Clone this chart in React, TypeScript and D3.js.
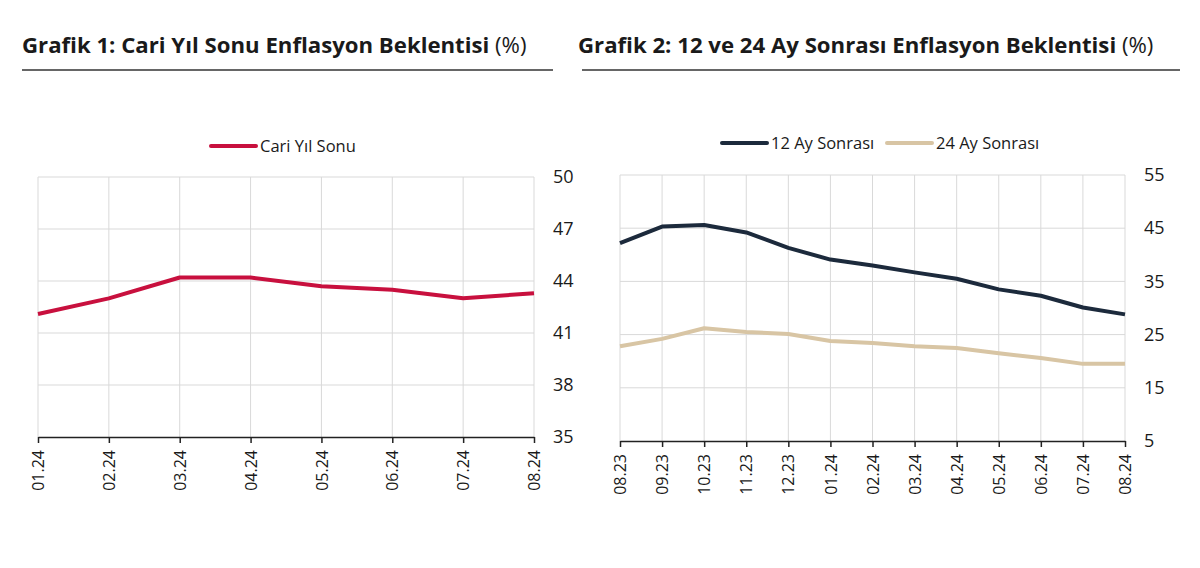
import React, { useEffect, useRef } from 'react';
import * as d3 from 'd3';

const months1 = ['01.24', '02.24', '03.24', '04.24', '05.24', '06.24', '07.24', '08.24'];
const cariYilSonu = [42.1, 43.0, 44.2, 44.2, 43.7, 43.5, 43.0, 43.3];
const ticks1 = [35, 38, 41, 44, 47, 50];

const months2 = ['08.23', '09.23', '10.23', '11.23', '12.23', '01.24', '02.24', '03.24', '04.24', '05.24', '06.24', '07.24', '08.24'];
const ay12 = [42.2, 45.3, 45.6, 44.2, 41.3, 39.1, 38.0, 36.7, 35.5, 33.5, 32.3, 30.1, 28.8];
const ay24 = [22.8, 24.2, 26.2, 25.5, 25.1, 23.8, 23.4, 22.8, 22.5, 21.5, 20.6, 19.5, 19.5];
const ticks2 = [5, 15, 25, 35, 45, 55];

const FONT = '"Open Sans", "DejaVu Sans", sans-serif';

interface Series {
  name: string;
  values: number[];
  color: string;
}

interface PanelOpts {
  left: number;
  right: number;
  top: number;
  bottom: number;
  title: string;
  titleX: number;
  ruleX1: number;
  ruleX2: number;
  categories: string[];
  series: Series[];
  yTicks: number[];
  legendX: number[];
  legendY: number;
}

function drawPanel(svg: d3.Selection<SVGSVGElement, unknown, null, undefined>, o: PanelOpts) {
  const g = svg.append('g');

  // title + rule
  const t = g.append('text')
    .attr('x', o.titleX)
    .attr('y', 53)
    .attr('font-family', FONT)
    .attr('font-size', 22.2)
    .attr('fill', '#1a1a1a');
  t.append('tspan').attr('font-weight', 700).text(o.title + ' ');
  t.append('tspan').attr('font-weight', 400).text('(%)');

  g.append('line')
    .attr('x1', o.ruleX1).attr('x2', o.ruleX2)
    .attr('y1', 70).attr('y2', 70)
    .attr('stroke', '#333').attr('stroke-width', 1.5);

  const x = d3.scalePoint<string>().domain(o.categories).range([o.left, o.right]);
  const y = d3.scaleLinear()
    .domain([o.yTicks[0], o.yTicks[o.yTicks.length - 1]])
    .range([o.bottom, o.top]);

  // gridlines
  g.append('g').selectAll('line.h')
    .data(o.yTicks.slice(1))
    .enter().append('line')
    .attr('x1', o.left).attr('x2', o.right)
    .attr('y1', d => y(d)).attr('y2', d => y(d))
    .attr('stroke', '#d9d9d9').attr('stroke-width', 1);

  g.append('g').selectAll('line.v')
    .data(o.categories)
    .enter().append('line')
    .attr('x1', d => x(d) || 0).attr('x2', d => x(d) || 0)
    .attr('y1', o.top).attr('y2', o.bottom)
    .attr('stroke', '#d9d9d9').attr('stroke-width', 1);

  // x axis
  const xAxis = g.append('g')
    .attr('transform', `translate(0,${o.bottom})`)
    .call(d3.axisBottom(x).tickSize(6).tickSizeOuter(0).tickPadding(8));
  xAxis.select('.domain').attr('stroke', '#222').attr('stroke-width', 1.5);
  xAxis.selectAll('.tick line').attr('stroke', '#222').attr('stroke-width', 1.5);
  xAxis.selectAll('.tick text')
    .attr('font-family', FONT)
    .attr('font-size', 16)
    .attr('fill', '#1a1a1a')
    .attr('transform', 'rotate(-90)')
    .attr('text-anchor', 'end')
    .attr('dy', '0.35em')
    .attr('x', -13)
    .attr('y', 0);

  // y axis on the right
  const yAxis = g.append('g')
    .attr('transform', `translate(${o.right},0)`)
    .call(d3.axisRight(y).tickValues(o.yTicks).tickSize(0).tickPadding(19));
  yAxis.select('.domain').remove();
  yAxis.selectAll('.tick text')
    .attr('font-family', FONT)
    .attr('font-size', 18)
    .attr('fill', '#1a1a1a');

  // lines
  const line = d3.line<number>()
    .x((_d, i) => x(o.categories[i]) || 0)
    .y(d => y(d));

  o.series.forEach(s => {
    g.append('path')
      .datum(s.values)
      .attr('fill', 'none')
      .attr('stroke', s.color)
      .attr('stroke-width', 4)
      .attr('stroke-linejoin', 'round')
      .attr('d', line);
  });

  // legend
  o.series.forEach((s, i) => {
    const lx = o.legendX[i];
    g.append('line')
      .attr('x1', lx).attr('x2', lx + 45)
      .attr('y1', o.legendY).attr('y2', o.legendY)
      .attr('stroke', s.color).attr('stroke-width', 4)
      .attr('stroke-linecap', 'round');
    g.append('text')
      .attr('x', lx + 49)
      .attr('y', o.legendY)
      .attr('dy', '0.35em')
      .attr('font-family', FONT)
      .attr('font-size', 16.5)
      .attr('fill', '#1a1a1a')
      .text(s.name);
  });
}

export default function App() {
  const svgRef = useRef<SVGSVGElement>(null);

  useEffect(() => {
    if (!svgRef.current) return;
    const svg = d3.select(svgRef.current);
    svg.selectAll('*').remove();

    svg.append('rect').attr('width', 1200).attr('height', 568).attr('fill', '#fff');

    drawPanel(svg, {
      left: 38, right: 534, top: 177, bottom: 437,
      title: 'Grafik 1: Cari Yıl Sonu Enflasyon Beklentisi',
      titleX: 22, ruleX1: 22, ruleX2: 553,
      categories: months1,
      series: [{ name: 'Cari Yıl Sonu', values: cariYilSonu, color: '#c8103e' }],
      yTicks: ticks1,
      legendX: [211],
      legendY: 146,
    });

    drawPanel(svg, {
      left: 620, right: 1125, top: 175, bottom: 441,
      title: 'Grafik 2: 12 ve 24 Ay Sonrası Enflasyon Beklentisi',
      titleX: 578, ruleX1: 582, ruleX2: 1180,
      categories: months2,
      series: [
        { name: '12 Ay Sonrası', values: ay12, color: '#1c2a3c' },
        { name: '24 Ay Sonrası', values: ay24, color: '#d8c5a4' },
      ],
      yTicks: ticks2,
      legendX: [722, 887],
      legendY: 143,
    });
  }, []);

  return (
    <svg
      ref={svgRef}
      width={1200}
      height={568}
      style={{ position: 'absolute', left: 0, top: 0 }}
    />
  );
}
